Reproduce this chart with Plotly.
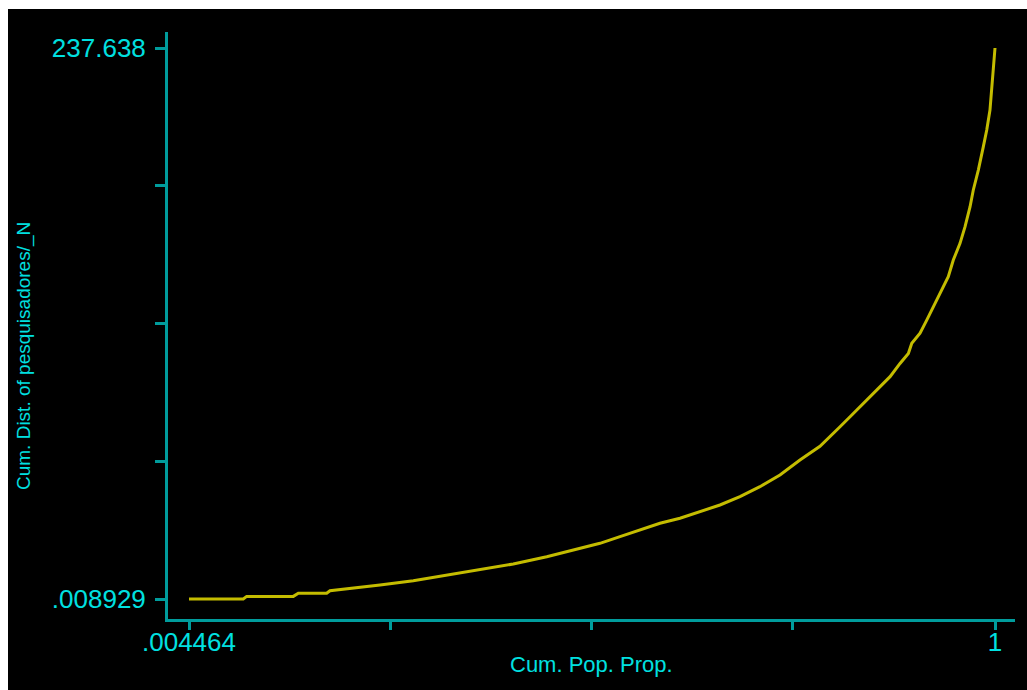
import plotly.graph_objects as go

# Data (Cum. Pop. Prop. vs Cum. Dist. of pesquisadores/_N)
cum_pop_prop = [0.004464, 0.0715, 0.0757, 0.1333, 0.1395, 0.1745, 0.1786, 0.2074,
                0.2404, 0.2815, 0.3228, 0.3639, 0.4050, 0.4463, 0.4874, 0.5121,
                0.5368, 0.5615, 0.5862, 0.6109, 0.6356, 0.6603, 0.6850, 0.7097,
                0.7344, 0.7591, 0.7838, 0.7963, 0.8086, 0.8210, 0.8333, 0.8457,
                0.8580, 0.8704, 0.8827, 0.8930, 0.8972, 0.9074, 0.9157, 0.9238,
                0.9300, 0.9423, 0.9485, 0.9568, 0.9630, 0.9692, 0.9732, 0.9794,
                0.9856, 0.9898, 0.9938, 0.9972, 1.0]
cum_dist = [0.008929, 0.008929, 1.13, 1.13, 2.47, 2.47, 3.59, 4.62,
            6.05, 7.9, 10.36, 12.5, 15.1, 18.25, 21.7, 24.03,
            26.88, 29.77, 32.66, 34.82, 37.66, 40.55, 44.13, 48.44,
            53.49, 59.96, 65.9, 70.0, 74.3, 78.6, 82.9, 87.2,
            91.6, 95.9, 101.6, 105.9, 110.3, 114.6, 120.3, 126.1,
            130.4, 139.0, 146.2, 153.4, 160.6, 169.2, 176.4, 185.0,
            195.1, 202.3, 210.9, 223.8, 237.638]

x_tickvals = [0.004464, 0.252848, 0.501232, 0.749616, 1.0]
x_ticktext = [".004464", "", "", "", "1"]
y_tickvals = [0.008929, 59.416, 118.8235, 178.2307, 237.638]
y_ticktext = [".008929", "", "", "", "237.638"]

x_title = "Cum. Pop. Prop."
y_title = "Cum. Dist. of pesquisadores/_N"

AXIS = "#009c9c"
LABEL = "#00e0e0"
CURVE = "#c4bc00"
FONT = "Liberation Sans, Arial, sans-serif"

fig = go.Figure()
fig.add_trace(go.Scatter(x=cum_pop_prop, y=cum_dist, mode="lines",
                         line=dict(color=CURVE, width=3), showlegend=False,
                         hoverinfo="skip"))

fig.update_layout(
    width=1019, height=681,
    margin=dict(l=160, r=12, t=23, b=71, autoexpand=False),
    paper_bgcolor="black", plot_bgcolor="black",
    font=dict(family=FONT, color=LABEL),
    xaxis=dict(range=[-0.02147, 1.0247], showgrid=False, zeroline=False,
               automargin=False,
               showline=True, linecolor=AXIS, linewidth=3,
               ticks="outside", ticklen=8, tickwidth=3, tickcolor=AXIS,
               tickvals=x_tickvals, ticktext=x_ticktext, ticklabelstandoff=-10,
               tickfont=dict(size=26, color=LABEL, family=FONT)),
    yaxis=dict(range=[-8.617, 244.54], showgrid=False, zeroline=False,
               automargin=False,
               showline=True, linecolor=AXIS, linewidth=3,
               ticks="outside", ticklen=10, tickwidth=3, tickcolor=AXIS,
               tickvals=y_tickvals, ticktext=y_ticktext, ticklabelstandoff=4,
               tickfont=dict(size=26, color=LABEL, family=FONT)),
    annotations=[
        dict(text=x_title, xref="paper", yref="paper", x=0.5, y=0,
             xanchor="center", yanchor="middle", yshift=-45, showarrow=False,
             font=dict(size=22, color=LABEL, family=FONT)),
        dict(text=y_title, xref="paper", yref="paper", x=0, y=(610 - 347) / 587,
             xanchor="center", yanchor="middle", xshift=-144, textangle=-90,
             showarrow=False, font=dict(size=19, color=LABEL, family=FONT)),
    ],
)

fig.write_html(
    "out.html",
    post_script="document.body.style.margin='9px 0 0 8px';"
                "document.body.style.overflow='hidden';"
                "document.body.style.background='white';",
)
